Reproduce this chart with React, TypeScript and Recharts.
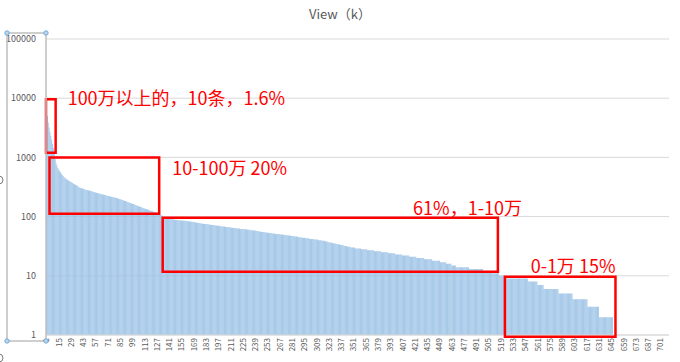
import { Bar, BarChart, CartesianGrid, ReferenceArea, XAxis, YAxis } from "recharts";

// row numbers on the category axis (1..710, rows after 646 are empty)
const rowNumbers = Array.from({ length: 710 }, (_, i) => i + 1);

const yTicks = [1, 10, 100, 1000, 10000, 100000];

// views (k), one value per row: the top rows
const headViews = [
  8200, 5000, 3900, 3200, 2700, 2300, 2000, 1700, 1450, 1250,
  930, 800, 720, 660, 620, 590, 560, 530, 505, 485,
  468, 452, 440, 428, 418, 408, 400, 392,
  384, 376, 368, 360, 352, 345, 338, 331, 324, 316, 308,
  303, 300, 297, 294, 291, 288, 285, 282, 280, 277, 275,
  272, 269, 267, 264, 261, 259, 256, 253, 251, 248,
  246, 243, 241, 239, 237, 235, 233, 231, 228, 226,
  224, 222, 220, 219, 217, 215, 213, 212, 210, 209, 207,
  204, 202, 199, 197, 194, 192, 190, 187, 185,
  183, 180, 178, 176, 173, 171,
  169, 167, 165, 163, 161, 158, 156, 154,
  152, 150, 148, 146, 144, 142, 140,
  138, 137, 135, 134, 132, 130, 129, 127,
  126, 124, 123, 121, 120, 118, 117, 115,
  113, 111, 109, 107, 105, 103
];

// the rest as [views (k), number of rows]
const tailRuns: [number, number][] = [
  [98, 1], [96, 1], [94, 1], [93, 2], [92, 2], [91, 2], [90, 2], [89, 3], [88, 3], [87, 3],
  [86, 3], [85, 3], [84, 3], [83, 3], [82, 2], [81, 2], [80, 2], [79, 2], [78, 2], [77, 2],
  [76, 3], [75, 3], [74, 3], [73, 3], [72, 3], [71, 3], [70, 3], [69, 3], [68, 3], [67, 3],
  [66, 3], [65, 3], [64, 4], [63, 4], [62, 4], [61, 4], [60, 4], [59, 3], [58, 3], [57, 3],
  [56, 3], [55, 4], [54, 4], [53, 4], [52, 4], [51, 5], [50, 5], [49, 4], [48, 4], [47, 4],
  [46, 4], [45, 4], [44, 4], [43, 5], [42, 5], [41, 5], [40, 4], [39, 4], [38, 3], [37, 3],
  [36, 3], [35, 4], [34, 4], [33, 4], [32, 4], [31, 4], [30, 5], [29, 7], [28, 7], [27, 8],
  [26, 8], [25, 8], [24, 8], [23, 8], [22, 8], [21, 8], [20, 9], [19, 9], [18, 9], [17, 7],
  [16, 6], [15, 5], [14, 15], [13, 16], [12, 10], [11, 8], [10, 8],
  [9, 25], [8, 11], [7, 7], [6, 17], [5, 16], [4, 17], [3, 13], [2, 16]
];

const views: number[] = [...headViews];
tailRuns.forEach(([v, n]) => {
  for (let k = 0; k < n; k++) views.push(v);
});

const chartData = rowNumbers.map((idx, i) => ({ idx, views: views[i] }));

// red annotation boxes, in data coordinates
const groups = [
  { x1: 1, x2: 11, y1: 1200, y2: 9600, text: "100万以上的，10条，1.6%" },
  { x1: 5, x2: 129, y1: 112, y2: 1000, text: "10-100万 20%" },
  { x1: 134, x2: 515, y1: 11.7, y2: 96, text: "61%，1-10万" },
  { x1: 524, x2: 649, y1: 0.93, y2: 9.6, text: "0-1万 15%" }
];

const FONT = '"Noto Sans CJK SC", "Noto Sans", sans-serif';
const RED = "#ff0000";
const MARGIN = { top: 39, right: 11, bottom: 0, left: 6 };

function makeLabel(i: number) {
  const text = groups[i].text;
  return (props: any) => {
    const vb = props.viewBox || {};
    const left = vb.x ?? 0;
    const top = vb.y ?? 0;
    const right = left + (vb.width ?? 0);
    let x = right + 12;
    let y = top - 2;
    let anchor: "start" | "end" = "start";
    if (i === 1) {
      x = right + 13;
      y = top + 10;
    } else if (i === 2) {
      x = right + 24;
      y = top - 11;
      anchor = "end";
    } else if (i === 3) {
      x = right;
      y = top - 12;
      anchor = "end";
    }
    return (
      <text x={x} y={y} fill={RED} fontSize={18} fontFamily={FONT} textAnchor={anchor} dominantBaseline="central">
        {text}
      </text>
    );
  };
}

function RowTick(props: any) {
  const { x, y, payload } = props;
  return (
    <g transform={`translate(${x},${y})`}>
      <text
        transform="rotate(-90)"
        x={-1}
        y={0}
        dy="0.35em"
        textAnchor="end"
        fill="#595959"
        fontSize={8}
        fontFamily={FONT}
      >
        {payload.value}
      </text>
    </g>
  );
}

export default function App() {
  return (
    <div style={{ position: "fixed", left: 0, top: 0, width: 680, height: 362, background: "#fff", fontFamily: FONT }}>
      <div
        style={{
          position: "absolute",
          top: 4,
          left: 0,
          width: 680,
          textAlign: "center",
          fontSize: 13,
          color: "#595959"
        }}
      >
        View（k）
      </div>
      <BarChart width={680} height={362} data={chartData} margin={MARGIN} barCategoryGap={0} barGap={0}>
        <CartesianGrid vertical={false} stroke="#d9d9d9" />
        <XAxis
          dataKey="idx"
          interval={13}
          tickLine={false}
          tickSize={0}
          tickMargin={2}
          height={27}
          axisLine={{ stroke: "#d9d9d9" }}
          tick={<RowTick />}
        />
        <YAxis
          scale="log"
          type="number"
          domain={[1, 100000]}
          ticks={yTicks}
          allowDataOverflow
          width={40}
          axisLine={false}
          tickLine={false}
          tickMargin={4}
          tick={{ fill: "#595959", fontSize: 9, fontFamily: FONT }}
        />
        <Bar dataKey="views" fill="#9dc3e6" isAnimationActive={false} />
      </BarChart>
      {/* same layout again, on top, so the red boxes sit above the bars */}
      <div style={{ position: "absolute", left: 0, top: 0 }}>
        <BarChart width={680} height={362} data={chartData} margin={MARGIN} barCategoryGap={0} barGap={0}>
          <XAxis dataKey="idx" interval={13} tick={false} tickLine={false} axisLine={false} height={27} />
          <YAxis
            scale="log"
            type="number"
            domain={[1, 100000]}
            ticks={yTicks}
            allowDataOverflow
            width={40}
            tick={false}
            tickLine={false}
            axisLine={false}
          />
          {groups.map((g, i) => (
            <ReferenceArea
              key={i}
              x1={g.x1}
              x2={g.x2}
              y1={g.y1}
              y2={g.y2}
              ifOverflow="visible"
              fill="none"
              fillOpacity={0}
              stroke={RED}
              strokeWidth={2.5}
              label={makeLabel(i)}
            />
          ))}
        </BarChart>
      </div>
      <svg width={680} height={362} style={{ position: "absolute", left: 0, top: 0, pointerEvents: "none" }}>
        <rect x={7} y={33} width={39} height={308} fill="none" stroke="#bfbfbf" strokeWidth={1.5} />
        {[
          [7, 33],
          [46, 33],
          [7, 341],
          [46, 341]
        ].map(([cx, cy], k) => (
          <circle key={k} cx={cx} cy={cy} r={2.2} fill="#bdd7ee" stroke="#5b9bd5" strokeWidth={0.8} />
        ))}
        <circle cx={-1} cy={180} r={4} fill="none" stroke="#7f7f7f" strokeWidth={1} />
        <circle cx={-1} cy={358} r={4} fill="none" stroke="#7f7f7f" strokeWidth={1} />
      </svg>
    </div>
  );
}
